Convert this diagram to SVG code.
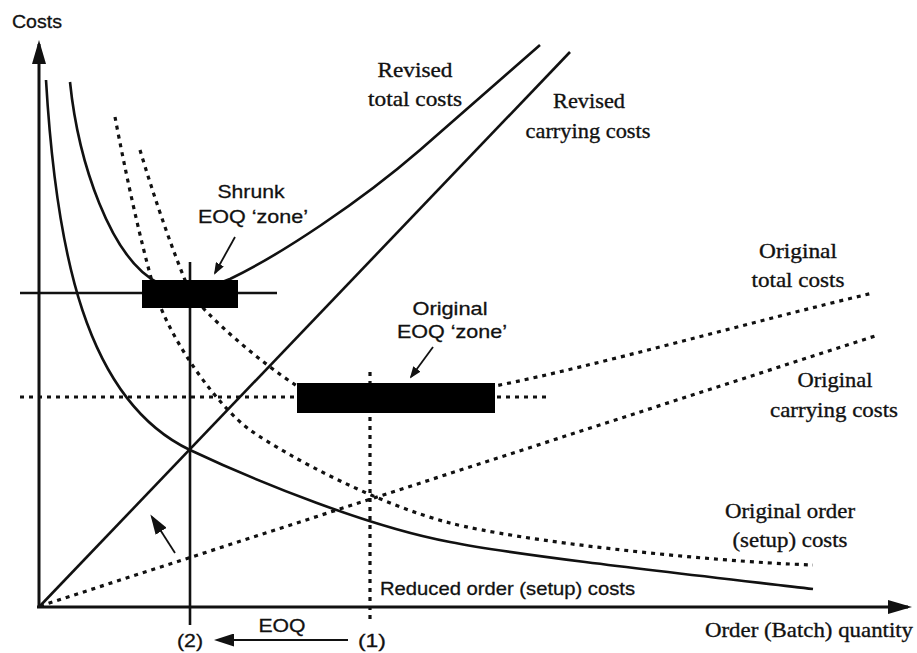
<svg xmlns="http://www.w3.org/2000/svg" width="917" height="653" viewBox="0 0 917 653">
  <defs>
    <style>
      .solid { fill: none; stroke: #111; stroke-width: 2.6; stroke-linejoin: round; }
      .dot { fill: none; stroke: #111; stroke-width: 3.2; stroke-dasharray: 4 5; }
      .axis { fill: none; stroke: #111; stroke-width: 3; }
      .lead { fill: none; stroke: #111; stroke-width: 1.8; }
      .zone { fill: #000; }
      .serif { font-family: "Liberation Serif", "Times New Roman", serif; font-size: 22px; fill: #111; stroke: #111; stroke-width: 0.35; }
      .sans { font-family: "Liberation Sans", Arial, sans-serif; font-size: 19px; fill: #111; stroke: #111; stroke-width: 0.3; }
      .mid { text-anchor: middle; }
    </style>
    <marker id="tipBig" viewBox="0 0 24 14" refX="20" refY="7" markerWidth="24" markerHeight="14" orient="auto" markerUnits="userSpaceOnUse">
      <path d="M0,0 L24,7 L0,14 Z" fill="#111"/>
    </marker>
    <marker id="tipMid" viewBox="0 0 20 13" refX="17" refY="6.5" markerWidth="20" markerHeight="13" orient="auto" markerUnits="userSpaceOnUse">
      <path d="M0,0 L20,6.5 L0,13 Z" fill="#111"/>
    </marker>
    <marker id="tipSmall" viewBox="0 0 12 9" refX="10" refY="4.5" markerWidth="12" markerHeight="9" orient="auto" markerUnits="userSpaceOnUse">
      <path d="M0,0 L12,4.5 L0,9 Z" fill="#111"/>
    </marker>
  </defs>

  <rect width="917" height="653" fill="#fff"/>

  <!-- axes -->
  <g id="axes">
    <path class="axis" d="M39,607 L39,44" marker-end="url(#tipBig)"/>
    <path class="axis" d="M37,607 L908,607" marker-end="url(#tipBig)"/>
    <text class="sans" x="12" y="28" textLength="50" lengthAdjust="spacingAndGlyphs">Costs</text>
    <text class="serif" x="705" y="637" textLength="208" lengthAdjust="spacingAndGlyphs">Order (Batch) quantity</text>
  </g>

  <!-- reference lines -->
  <g id="guides">
    <path class="solid" d="M20,293 L277,293"/>
    <path class="dot" d="M20,397 L548,397" stroke-dasharray="5 4.5"/>
    <path class="solid" d="M190,262 L190,625"/>
    <path class="dot" d="M370,372 L370,623"/>
  </g>

  <!-- cost curves -->
  <g id="connectors">
    <!-- revised carrying costs -->
    <path id="revised-carrying" class="solid" d="M39,607 L570,52"/>
    <!-- reduced order (setup) costs -->
    <path id="reduced-order" class="solid" d="M46,80 C56,250 85,400 190,450 C260,483 370,527 450,542 C520,556 693,575 813,589"/>
    <!-- revised total costs -->
    <path id="revised-total" class="solid" d="M70,82 C78,160 110,260 160,284 C180,292 205,290 230,279 C280,255 360,202 420,150 C460,115 500,80 540,45"/>
    <!-- original carrying costs -->
    <path id="original-carrying" class="dot" d="M40,606 L878,335"/>
    <!-- original order (setup) costs -->
    <path id="original-order" class="dot" d="M115,117 C125,170 140,240 155,292 C172,345 220,408 250,430 C290,458 380,505 450,523 C520,541 700,561 813,565"/>
    <!-- original total costs -->
    <path id="original-total" class="dot" d="M140,150 C152,190 170,245 190,292 C205,315 260,362 297,386 L495,386 C600,365 750,322 873,293"/>

    <!-- leaders and arrows -->
    <path class="lead" d="M235,237 L215,273" marker-end="url(#tipSmall)"/>
    <path class="lead" d="M433,347 L411,377" marker-end="url(#tipSmall)"/>
    <path class="lead" d="M175,553 L152,517" stroke-width="2.2" marker-end="url(#tipMid)"/>
    <path class="lead" d="M348,640 L217,640" stroke-width="2.2" marker-end="url(#tipMid)"/>
  </g>

  <!-- EOQ zones -->
  <g id="shrunk-zone">
    <rect class="zone" x="142" y="280" width="96" height="28"/>
    <text class="sans mid" x="251" y="198" textLength="67" lengthAdjust="spacingAndGlyphs">Shrunk</text>
    <text class="sans mid" x="253" y="223" textLength="110" lengthAdjust="spacingAndGlyphs">EOQ ‘zone’</text>
  </g>
  <g id="original-zone">
    <rect class="zone" x="297" y="383" width="198" height="30"/>
    <text class="sans mid" x="450" y="315" textLength="75" lengthAdjust="spacingAndGlyphs">Original</text>
    <text class="sans mid" x="452" y="338" textLength="110" lengthAdjust="spacingAndGlyphs">EOQ ‘zone’</text>
  </g>

  <!-- curve labels -->
  <g id="label-revised-total">
    <text class="serif mid" x="415" y="77" textLength="75" lengthAdjust="spacingAndGlyphs">Revised</text>
    <text class="serif mid" x="415" y="106" textLength="94" lengthAdjust="spacingAndGlyphs">total costs</text>
  </g>
  <g id="label-revised-carrying">
    <text class="serif mid" x="589" y="108" textLength="72" lengthAdjust="spacingAndGlyphs">Revised</text>
    <text class="serif mid" x="588" y="138" textLength="125" lengthAdjust="spacingAndGlyphs">carrying costs</text>
  </g>
  <g id="label-original-total">
    <text class="serif mid" x="798" y="258" textLength="78" lengthAdjust="spacingAndGlyphs">Original</text>
    <text class="serif mid" x="798" y="287" textLength="93" lengthAdjust="spacingAndGlyphs">total costs</text>
  </g>
  <g id="label-original-carrying">
    <text class="serif mid" x="835" y="387" textLength="75" lengthAdjust="spacingAndGlyphs">Original</text>
    <text class="serif mid" x="834" y="417" textLength="128" lengthAdjust="spacingAndGlyphs">carrying costs</text>
  </g>
  <g id="label-original-order">
    <text class="serif mid" x="790" y="518" textLength="130" lengthAdjust="spacingAndGlyphs">Original order</text>
    <text class="serif mid" x="790" y="547" textLength="115" lengthAdjust="spacingAndGlyphs">(setup) costs</text>
  </g>
  <g id="label-reduced-order">
    <text class="sans" x="380" y="595" textLength="255" lengthAdjust="spacingAndGlyphs">Reduced order (setup) costs</text>
  </g>

  <!-- EOQ shift -->
  <g id="eoq-shift">
    <text class="sans mid" x="282" y="632" textLength="47" lengthAdjust="spacingAndGlyphs">EOQ</text>
    <text class="sans mid" x="190" y="647" textLength="26" lengthAdjust="spacingAndGlyphs">(2)</text>
    <text class="sans mid" x="372" y="647" textLength="28" lengthAdjust="spacingAndGlyphs">(1)</text>
  </g>
</svg>
